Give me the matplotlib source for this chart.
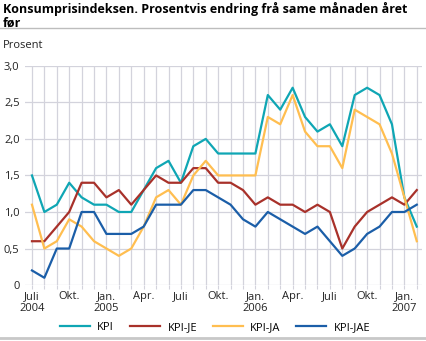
import matplotlib.pyplot as plt
import numpy as np
from matplotlib.lines import Line2D

# Monthly series, July 2004 - February 2007 (percent change from same month previous year)
months = ["Juli\n2004", "", "", "Okt.", "", "", "Jan.\n2005", "", "", "Apr.", "", "",
          "Juli", "", "", "Okt.", "", "", "Jan.\n2006", "", "", "Apr.", "", "",
          "Juli", "", "", "Okt.", "", "", "Jan.\n2007", ""]

kpi = [1.5, 1.0, 1.1, 1.4, 1.2, 1.1, 1.1, 1.0, 1.0, 1.3, 1.6, 1.7,
       1.4, 1.9, 2.0, 1.8, 1.8, 1.8, 1.8, 2.6, 2.4, 2.7, 2.3, 2.1,
       2.2, 1.9, 2.6, 2.7, 2.6, 2.2, 1.2, 0.8]
kpi_je = [0.6, 0.6, 0.8, 1.0, 1.4, 1.4, 1.2, 1.3, 1.1, 1.3, 1.5, 1.4,
          1.4, 1.6, 1.6, 1.4, 1.4, 1.3, 1.1, 1.2, 1.1, 1.1, 1.0, 1.1,
          1.0, 0.5, 0.8, 1.0, 1.1, 1.2, 1.1, 1.3]
kpi_ja = [1.1, 0.5, 0.6, 0.9, 0.8, 0.6, 0.5, 0.4, 0.5, 0.8, 1.2, 1.3,
          1.1, 1.5, 1.7, 1.5, 1.5, 1.5, 1.5, 2.3, 2.2, 2.6, 2.1, 1.9,
          1.9, 1.6, 2.4, 2.3, 2.2, 1.8, 1.2, 0.6]
kpi_jae = [0.2, 0.1, 0.5, 0.5, 1.0, 1.0, 0.7, 0.7, 0.7, 0.8, 1.1, 1.1,
           1.1, 1.3, 1.3, 1.2, 1.1, 0.9, 0.8, 1.0, 0.9, 0.8, 0.7, 0.8,
           0.6, 0.4, 0.5, 0.7, 0.8, 1.0, 1.0, 1.1]

series = [("KPI", kpi, "#0fa6b4"),
          ("KPI-JE", kpi_je, "#a8312a"),
          ("KPI-JA", kpi_ja, "#ffbe50"),
          ("KPI-JAE", kpi_jae, "#1b5ea8")]

plt.rcParams['font.family'] = ['Open Sans', 'DejaVu Sans']

fig = plt.figure(figsize=(4.26, 3.41), dpi=100)
ax = fig.add_axes([0.059, 0.164, 0.931, 0.643])

x = np.arange(len(months))
for name, vals, col in series:
    ax.plot(x, vals, color=col, lw=1.6, label=name, zorder=3)

ax.set_xlim(-0.55, 31.4)
ax.set_ylim(0, 3.0)
yt = np.arange(0, 3.01, 0.5)
ax.set_yticks(yt)
ax.set_yticklabels(["0" if v == 0 else f"{v:.1f}".replace(".", ",") for v in yt])
ax.set_xticks(x)
ax.set_xticklabels(months, linespacing=1.2)

grid_col = "#d3d3dc"
ax.grid(True, color=grid_col, lw=0.9, zorder=0)
for s in ax.spines.values():
    s.set_visible(False)
ax.tick_params(axis="y", length=0, labelsize=8, pad=4, colors="#222222")
ax.tick_params(axis="x", length=3, labelsize=8, pad=1, colors=grid_col, labelcolor="#222222")

# title, unit label, separators
fig.text(0.007, 0.993, "Konsumprisindeksen. Prosentvis endring frå same månaden året\nfør",
         fontsize=9.0, fontweight="bold", va="top", ha="left", linespacing=1.05)
fig.add_artist(Line2D([0, 1], [0.917, 0.917], color="#bdbdbd", lw=1.0))
fig.text(0.007, 0.868, "Prosent", fontsize=8, va="center", ha="left", color="#222222")
fig.add_artist(Line2D([0, 1], [0.008, 0.008], color="#c8c8c8", lw=2.0))

fig.legend(loc="center", bbox_to_anchor=(0.505, 0.04), ncol=4, frameon=False,
           fontsize=8, handlelength=2.7, handletextpad=0.7, columnspacing=1.4)

fig.savefig("out.png", dpi=100)
